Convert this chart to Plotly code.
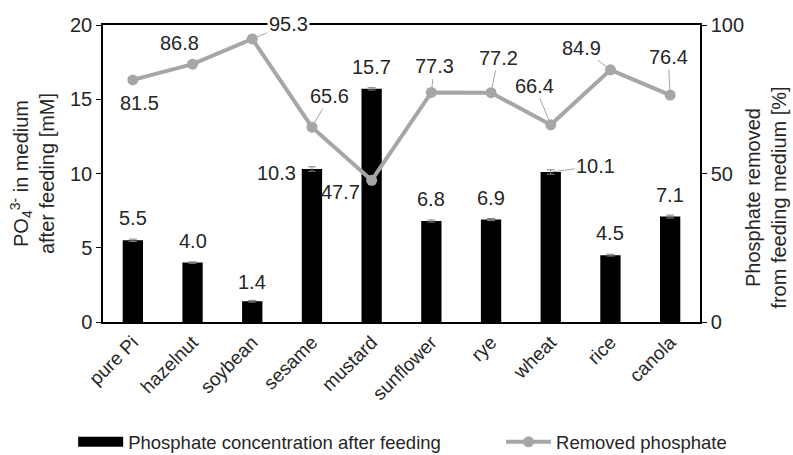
import plotly.graph_objects as go

# Seed/meal sources fed to the culture
categories = ["pure Pi", "hazelnut", "soybean", "sesame", "mustard",
              "sunflower", "rye", "wheat", "rice", "canola"]

# Phosphate concentration in medium after feeding (mM) and its error
po4_after = [5.5, 4.0, 1.4, 10.3, 15.7, 6.8, 6.9, 10.1, 4.5, 7.1]
po4_err = [0.08, 0.05, 0.06, 0.15, 0.08, 0.07, 0.07, 0.15, 0.06, 0.1]

# Phosphate removed from feeding medium (%)
removed_pct = [81.5, 86.8, 95.3, 65.6, 47.7, 77.3, 77.2, 66.4, 84.9, 76.4]

# Label offsets (pixels) for the percentage labels: (ax, ay, draw leader)
pct_label_pos = [(7, 23, False), (-13, -21, False), (36, -15, True), (18, -31, True),
                 (-31, 12, False), (3, -26, True), (7, -35, True), (-16, -39, True),
                 (-29, -22, True), (-2, -38, True)]
# Label offsets (pixels) for the bar value labels
bar_label_pos = [(0, -22, False), (0, -22, False), (0, -19, False), (-35, 4, False),
                 (0, -22, False), (0, -22, False), (0, -22, False), (45, -6, True),
                 (0, -22, False), (0, -22, False)]

FONT = "Liberation Sans, Arial, sans-serif"
GREY = "#a6a6a6"
TXT = "#262626"

fig = go.Figure()

fig.add_trace(go.Bar(
    x=categories, y=po4_after, name="Phosphate concentration after feeding",
    marker=dict(color="black", line=dict(width=0)), width=0.34,
    error_y=dict(type="data", array=po4_err, color="#7f7f7f", thickness=1, width=4),
    showlegend=False, yaxis="y",
))

# legend entry drawn as a wide black band
fig.add_trace(go.Scatter(
    x=[None], y=[None], mode="lines", name="Phosphate concentration after feeding",
    line=dict(color="black", width=10), yaxis="y", legend="legend",
))

fig.add_trace(go.Scatter(
    x=categories, y=removed_pct, name="Removed phosphate", mode="lines+markers",
    line=dict(color=GREY, width=4), marker=dict(color=GREY, size=11),
    yaxis="y2", legend="legend2",
))

annotations = []
for cat, v, (ax, ay, lead) in zip(categories, removed_pct, pct_label_pos):
    annotations.append(dict(
        x=cat, y=v, xref="x", yref="y2", text=f"{v:.1f}",
        showarrow=True, arrowhead=0, arrowwidth=1,
        arrowcolor=GREY if lead else "rgba(0,0,0,0)",
        ax=ax, ay=ay, standoff=5, bgcolor="white" if cat == "soybean" else None,
        font=dict(family=FONT, size=20, color=TXT),
    ))
for cat, v, (ax, ay, lead) in zip(categories, po4_after, bar_label_pos):
    annotations.append(dict(
        x=cat, y=v, xref="x", yref="y", text=f"{v:.1f}",
        showarrow=True, arrowhead=0, arrowwidth=1,
        arrowcolor=GREY if lead else "rgba(0,0,0,0)",
        ax=ax, ay=ay, standoff=2,
        font=dict(family=FONT, size=20, color=TXT),
    ))

# right-hand axis title, set slightly below the axis middle
annotations.append(dict(
    text="Phosphate removed<br>from feeding medium [%]", xref="paper", yref="paper",
    x=1.11, y=0.4175, xanchor="center", yanchor="middle", textangle=-90,
    showarrow=False, font=dict(family=FONT, size=20, color=TXT),
))

legend_style = dict(
    orientation="h", yanchor="middle", y=-0.405, xanchor="left",
    font=dict(size=18.5, color=TXT), itemwidth=45, bgcolor="rgba(0,0,0,0)",
)

fig.update_layout(
    width=793, height=455,
    margin=dict(l=103, r=93, t=25, b=133, autoexpand=False),
    paper_bgcolor="white", plot_bgcolor="white",
    font=dict(family=FONT, size=20, color=TXT),
    xaxis=dict(
        showline=True, linecolor="black", linewidth=1.5, mirror=True,
        tickangle=-45, ticks="", tickfont=dict(size=19, color=TXT),
        range=[-0.5, 9.5], automargin=False,
    ),
    yaxis=dict(
        range=[0, 20], dtick=5, showgrid=False, zeroline=False,
        showline=True, linecolor="black", linewidth=1.5,
        ticks="outside", ticklen=5, tickcolor="black",
        tickfont=dict(size=20, color=TXT), automargin=False,
        title=dict(text="PO<sub>4</sub><sup>3-</sup> in medium<br>after feeding [mM]",
                   font=dict(size=20, color=TXT), standoff=10),
    ),
    yaxis2=dict(
        range=[0, 100], dtick=50, overlaying="y", side="right",
        showgrid=False, zeroline=False,
        showline=True, linecolor="black", linewidth=1.5,
        ticks="outside", ticklen=5, tickcolor="black",
        tickfont=dict(size=20, color=TXT), automargin=False,
    ),
    legend=dict(x=-0.05, **legend_style),
    legend2=dict(x=0.6667, **legend_style),
    annotations=annotations,
)

fig.write_html("out.html")
